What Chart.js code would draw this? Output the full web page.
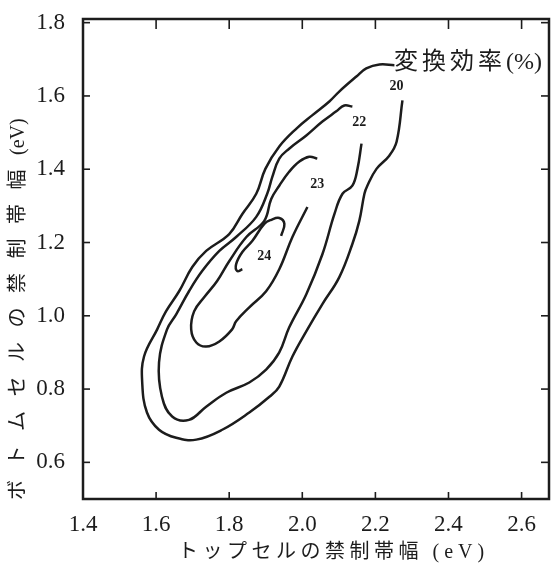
<!DOCTYPE html>
<html lang="ja">
<head>
<meta charset="UTF-8">
<title>変換効率</title>
<script src="https://cdn.jsdelivr.net/npm/chart.js@4.4.1/dist/chart.umd.min.js"></script>
<style>
  html, body { margin: 0; padding: 0; background: #fff; }
  canvas { display: block; }
</style>
</head>
<body>
<canvas id="chartOne" width="554" height="569"></canvas>
<script>
// Curvas de igual eficiencia, x = top cell, y = bottom cell (eV)
const c20X = [2.252, 2.211, 2.175, 2.148, 2.101, 2.074, 2.027, 1.984, 1.937, 1.899, 1.874, 1.836, 1.800, 1.737, 1.699, 1.663, 1.627, 1.603, 1.567, 1.562, 1.575, 1.608, 1.655, 1.710, 1.781, 1.855, 1.910, 1.937, 1.973, 2.014, 2.055, 2.101, 2.137, 2.156, 2.170, 2.178, 2.203, 2.238, 2.258, 2.274];
const c20Y = [1.684, 1.686, 1.675, 1.653, 1.612, 1.585, 1.547, 1.511, 1.462, 1.401, 1.333, 1.278, 1.223, 1.177, 1.133, 1.067, 1.012, 0.963, 0.889, 0.818, 0.736, 0.689, 0.667, 0.662, 0.689, 0.736, 0.779, 0.807, 0.889, 0.963, 1.032, 1.105, 1.196, 1.259, 1.333, 1.355, 1.401, 1.437, 1.475, 1.588];

const c22X = [2.137, 2.115, 2.093, 2.055, 2.011, 1.964, 1.937, 1.918, 1.904, 1.874, 1.819, 1.773, 1.726, 1.690, 1.655, 1.630, 1.608, 1.616, 1.644, 1.690, 1.737, 1.792, 1.855, 1.901, 1.937, 1.964, 2.011, 2.055, 2.088, 2.110, 2.137, 2.151, 2.162];
const c22Y = [1.571, 1.574, 1.558, 1.530, 1.492, 1.456, 1.429, 1.379, 1.333, 1.270, 1.215, 1.177, 1.122, 1.067, 1.004, 0.963, 0.873, 0.779, 0.725, 0.716, 0.752, 0.790, 0.818, 0.853, 0.900, 0.968, 1.059, 1.168, 1.278, 1.333, 1.355, 1.401, 1.470];

const c23X = [2.041, 2.019, 1.992, 1.964, 1.937, 1.915, 1.896, 1.847, 1.800, 1.767, 1.732, 1.704, 1.696, 1.710, 1.737, 1.773, 1.808, 1.819, 1.855, 1.901, 1.937, 1.973, 2.014];
const c23Y = [1.429, 1.434, 1.421, 1.393, 1.355, 1.319, 1.259, 1.215, 1.149, 1.095, 1.051, 1.012, 0.963, 0.927, 0.916, 0.930, 0.963, 0.985, 1.023, 1.067, 1.127, 1.215, 1.297];

const c24X = [1.942, 1.951, 1.937, 1.915, 1.896, 1.863, 1.836, 1.819, 1.822, 1.836];
const c24Y = [1.218, 1.251, 1.267, 1.262, 1.251, 1.204, 1.174, 1.141, 1.122, 1.127];

// etiquetas de nivel (%)
const levelNames = ['20', '22', '23', '24'];
const levelX = [2.258, 2.156, 2.041, 1.896];
const levelY = [1.626, 1.527, 1.358, 1.163];

const xTicks = [1.4, 1.6, 1.8, 2.0, 2.2, 2.4, 2.6];
const yTicks = [0.6, 0.8, 1.0, 1.2, 1.4, 1.6, 1.8];

const xTitle = ['ト', 'ッ', 'プ', 'セ', 'ル', 'の', '禁', '制', '帯', '幅'];
const xUnit = ['(', 'e', 'V', ')'];
const yTitle = ['ボ', 'ト', 'ム', 'セ', 'ル', 'の', '禁', '制', '帯', '幅', '(eV)'];
const noteText = ['変', '換', '効', '率', '(%)'];

const INK = '#1c1c1c';
const FONT = "'Liberation Serif', 'Noto Sans CJK JP', serif";

function toPoints(xs, ys) {
    return xs.map((v, i) => ({ x: v, y: ys[i] }));
}

function curve(xs, ys) {
    return {
        data: toPoints(xs, ys),
        showLine: true,
        borderColor: INK,
        borderWidth: 2.5,
        pointRadius: 0,
        tension: 0.4,
        fill: false
    };
}

// dibuja un texto por partes, con espacio extra entre ellas; devuelve el x final
function drawSpaced(ctx, parts, gap, x, y) {
    parts.forEach(p => {
        ctx.fillText(p, x, y);
        x += ctx.measureText(p).width + gap;
    });
    return x - gap;
}

function line(ctx, x1, y1, x2, y2) {
    ctx.beginPath();
    ctx.moveTo(x1, y1);
    ctx.lineTo(x2, y2);
    ctx.stroke();
}

const framePlugin = {
    id: 'framePlugin',
    afterDraw(chart) {
        const ctx = chart.ctx;
        const a = chart.chartArea;
        const sx = chart.scales.x;
        const sy = chart.scales.y;
        ctx.save();
        ctx.strokeStyle = INK;
        ctx.lineWidth = 2.5;
        ctx.strokeRect(a.left, a.top, a.right - a.left, a.bottom - a.top);

        // ticks hacia adentro en los cuatro lados
        ctx.lineWidth = 1.6;
        xTicks.forEach(v => {
            const px = sx.getPixelForValue(v);
            if (px - a.left < 2) return;
            line(ctx, px, a.bottom, px, a.bottom - 7);
            line(ctx, px, a.top, px, a.top + 10);
        });
        yTicks.forEach(v => {
            const py = sy.getPixelForValue(v);
            if (py - a.top < 2) return;
            line(ctx, a.left, py, a.left + 7, py);
            line(ctx, a.right, py, a.right - 8, py);
        });

        ctx.fillStyle = INK;
        ctx.textBaseline = 'middle';
        ctx.textAlign = 'left';

        // titulo eje x
        ctx.font = '20px ' + FONT;
        const xEnd = drawSpaced(ctx, xTitle, 4.5, 178, 553);
        drawSpaced(ctx, xUnit, 5, xEnd + 14, 553);

        // titulo eje y (rotado)
        ctx.save();
        ctx.translate(19, 500);
        ctx.rotate(-Math.PI / 2);
        drawSpaced(ctx, yTitle, 14.5, 0, 0);
        ctx.restore();

        // nota 変換効率(%)
        ctx.font = '24px ' + FONT;
        drawSpaced(ctx, noteText, 4, 394, 63);

        // numeros de cada curva
        ctx.font = 'bold 14px ' + FONT;
        ctx.textAlign = 'center';
        levelNames.forEach((t, i) => {
            ctx.fillText(t, sx.getPixelForValue(levelX[i]), sy.getPixelForValue(levelY[i]));
        });
        ctx.restore();
    }
};

const tickFont = { family: FONT, size: 23 };

var ctxOne = document.getElementById('chartOne').getContext('2d');
var chartOne = new Chart(ctxOne, {
    type: 'scatter',
    data: {
        datasets: [curve(c20X, c20Y), curve(c22X, c22Y), curve(c23X, c23Y), curve(c24X, c24Y)]
    },
    options: {
        responsive: false,
        animation: false,
        devicePixelRatio: 1,
        layout: { padding: { top: 19, right: 5, left: 0, bottom: 0 } },
        plugins: {
            legend: { display: false },
            tooltip: { enabled: false }
        },
        scales: {
            x: {
                type: 'linear',
                min: 1.4,
                max: 2.675,
                afterBuildTicks: s => { s.ticks = xTicks.map(v => ({ value: v })); },
                afterFit: s => { s.height = 70; s.paddingLeft = 0; s.paddingRight = 0; },
                grid: { display: false },
                border: { display: false },
                ticks: {
                    autoSkip: false,
                    maxRotation: 0,
                    padding: 4,
                    color: INK,
                    font: tickFont,
                    callback: v => Number(v).toFixed(1)
                }
            },
            y: {
                type: 'linear',
                min: 0.5,
                max: 1.81,
                afterBuildTicks: s => { s.ticks = yTicks.map(v => ({ value: v })); },
                afterFit: s => { s.width = 83; s.paddingTop = 0; s.paddingBottom = 0; },
                grid: { display: false },
                border: { display: false },
                ticks: {
                    autoSkip: false,
                    padding: 10,
                    color: INK,
                    font: tickFont,
                    callback: v => Number(v).toFixed(1)
                }
            }
        }
    },
    plugins: [framePlugin]
});
</script>
</body>
</html>
